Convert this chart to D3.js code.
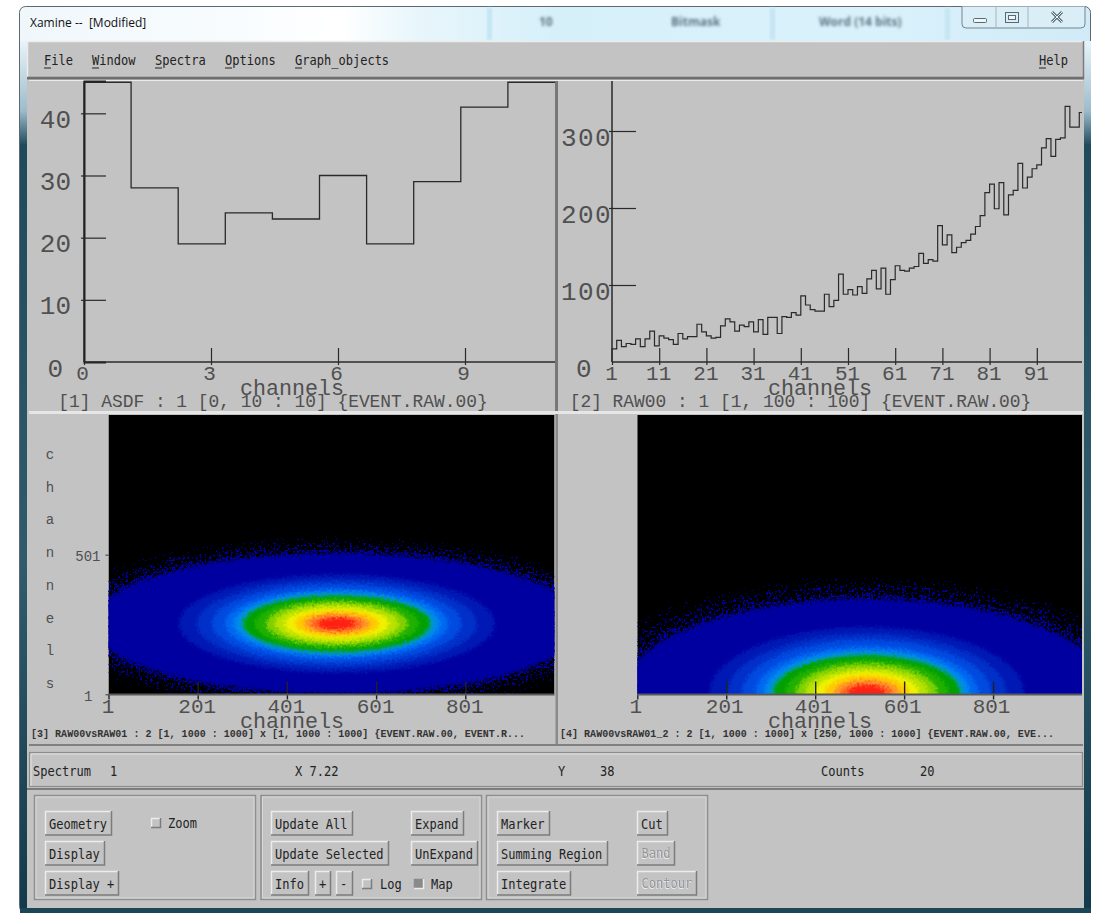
<!DOCTYPE html>
<html>
<head>
<meta charset="utf-8">
<title>Xamine</title>
<script src="https://cdn.jsdelivr.net/npm/d3@7"></script>
<style>
  html, body { margin: 0; padding: 0; background: #fff; }
  svg { display: block; }
  .mono { font-family: "Liberation Mono", monospace; fill: #505050; }
  .tiny { fill: #333; }
</style>
</head>
<body>
<div id="chart"></div>
<script>
// spectrum 1, counts per channel
const asdfCounts = [45, 28, 19, 24, 23, 30, 19, 29, 41, 45];
const asdfXTicks = [0, 3, 6, 9];
const asdfYTicks = [0, 10, 20, 30, 40];

// spectrum 2
const raw00Counts = [
  17, 28, 20, 24, 23, 30, 20, 30, 40, 21,
  34, 31, 29, 23, 37, 30, 33, 33, 49, 39,
  34, 31, 32, 47, 56, 52, 40, 48, 46, 52,
  39, 55, 36, 58, 58, 37, 59, 58, 64, 61,
  86, 74, 68, 66, 66, 88, 72, 80, 114, 88,
  94, 87, 98, 89, 108, 119, 95, 122, 88, 107,
  125, 119, 118, 122, 124, 141, 128, 133, 131, 177,
  152, 165, 142, 149, 155, 158, 166, 176, 190, 220,
  231, 199, 233, 191, 217, 223, 258, 226, 240, 251,
  256, 278, 290, 267, 289, 291, 332, 305, 305, 324
];
const raw00XTicks = [1, 11, 21, 31, 41, 51, 61, 71, 81, 91];
const raw00YTicks = [0, 100, 200, 300];

// 2d spectra: contour bands of the blob, half widths in channels
const bandRadiusX = [549, 354, 314, 280, 251, 231, 217, 209, 184, 159, 139, 117, 94, 74, 58, 40];
const bandRadiusY = [251, 176, 158, 143, 125, 115, 108, 100, 90, 79, 68, 57, 47, 36, 27, 20];
const fringeRadiusX = [650, 610, 575];
const fringeRadiusY = [312, 290, 265];
const blobCenterY = 254;
const blobCenterX = [513, 517];
const mapXTicks = [1, 201, 401, 601, 801];
const map3YTicks = [1, 501];

const menuLeft = ["File", "Window", "Spectra", "Options", "Graph_objects"];
const menuLeftX = [44, 92, 155, 225, 295];

const bandPalette = ["#0000a0", "#0018b4", "#0030c8", "#004ae0", "#0068f0", "#0088f0", "#009cb0", "#00a000",
  "#20b000", "#80d000", "#b8e200", "#f0f000", "#ffc800", "#ff9428", "#ff6020", "#ff2014"];

var svg = d3.select("#chart").append("svg").attr("width", 1101).attr("height", 913);
var defs = svg.append("defs");

// ---- filters for the pixel noise of the 2d maps
var rough = defs.append("filter").attr("id", "rough").attr("x", "-5%").attr("y", "-5%").attr("width", "110%").attr("height", "110%")
  .attr("color-interpolation-filters", "sRGB");
rough.append("feGaussianBlur").attr("in", "SourceGraphic").attr("stdDeviation", 1.6).attr("result", "soft");
rough.append("feTurbulence").attr("type", "fractalNoise").attr("baseFrequency", 0.4).attr("numOctaves", 2).attr("seed", 4).attr("result", "n");
rough.append("feDisplacementMap").attr("in", "soft").attr("in2", "n").attr("scale", 7).attr("xChannelSelector", "R").attr("yChannelSelector", "G");

function speckle(id, cut, seed) {
  var f = defs.append("filter").attr("id", id).attr("x", "-5%").attr("y", "-5%").attr("width", "110%").attr("height", "110%")
    .attr("color-interpolation-filters", "sRGB");
  f.append("feTurbulence").attr("type", "fractalNoise").attr("baseFrequency", 0.42).attr("numOctaves", 2).attr("seed", seed).attr("result", "n");
  f.append("feColorMatrix").attr("in", "n").attr("type", "matrix")
    .attr("values", "0 0 0 0 0  0 0 0 0 0  0 0 0 0 0  30 0 0 0 " + (-30 * cut)).attr("result", "m");
  f.append("feComposite").attr("in", "SourceGraphic").attr("in2", "m").attr("operator", "in");
}
speckle("sparse", 0.68, 7);
speckle("mid", 0.6, 11);
speckle("dense", 0.53, 19);

// ---- window chrome
var glass = defs.append("linearGradient").attr("id", "glass").attr("x1", 0).attr("x2", 1).attr("y1", 0).attr("y2", 0);
[[0, "#f0f7fb"], [0.2, "#f8fcfe"], [0.3, "#ffffff"], [0.37, "#e8f6fb"], [0.5, "#d6f0fa"], [0.8, "#d9f1fb"], [1, "#d0ebf7"]]
  .forEach(d => glass.append("stop").attr("offset", d[0]).attr("stop-color", d[1]));
var frame = defs.append("linearGradient").attr("id", "frame").attr("x1", 0).attr("x2", 0).attr("y1", 0).attr("y2", 1);
[[0, "#e8f4fa"], [0.08, "#9dbccb"], [0.12, "#1f4a5c"], [0.6, "#2f5b6c"], [1, "#123a4a"]]
  .forEach(d => frame.append("stop").attr("offset", d[0]).attr("stop-color", d[1]));

svg.append("rect").attr("x", 19.5).attr("y", 6.5).attr("width", 1071).attr("height", 906).attr("rx", 6)
  .attr("fill", "url(#glass)").attr("stroke", "#5c6a70");
svg.append("rect").attr("x", 20).attr("y", 41).attr("width", 7).attr("height", 871).attr("fill", "url(#frame)");
svg.append("rect").attr("x", 1084).attr("y", 41).attr("width", 7).attr("height", 871).attr("fill", "url(#frame)");
svg.append("rect").attr("x", 20).attr("y", 908).attr("width", 1071).attr("height", 5).attr("fill", "#1c4656");

// blurred taskbar behind the glass
defs.append("filter").attr("id", "blur").append("feGaussianBlur").attr("stdDeviation", 1.8);
[["10", 539], ["Bitmask", 671], ["Word (14 bits)", 819]].forEach(function(d) {
  svg.append("text").attr("x", d[1]).attr("y", 26).attr("font-family", "Open Sans").attr("font-size", 12).attr("font-weight", 700)
    .attr("fill", "#5a7480").attr("filter", "url(#blur)").text(d[0]);
});
[487, 770, 945].forEach(x => svg.append("rect").attr("x", x).attr("y", 8).attr("width", 5).attr("height", 32).attr("fill", "#c4e4f2").attr("filter", "url(#blur)"));

svg.append("text").attr("x", 30).attr("y", 27).attr("font-family", "Open Sans").attr("font-size", 12).attr("fill", "#111")
  .attr("xml:space", "preserve").text("Xamine --  [Modified]");

// min / max / close buttons
var wb = svg.append("g");
wb.append("path").attr("d", "M962,6.5V24a4,4 0 0 0 4,4H1081a4,4 0 0 0 4,-4V6.5").attr("fill", "#d9eef7").attr("stroke", "#74868f");
wb.append("path").attr("d", "M996,6.5V28M1028,6.5V28").attr("stroke", "#a4b6be");
wb.append("rect").attr("x", 973.5).attr("y", 18.5).attr("width", 13).attr("height", 4).attr("rx", 1).attr("fill", "#eef6fa").attr("stroke", "#5a6a72");
wb.append("rect").attr("x", 1005.5).attr("y", 12.5).attr("width", 13).attr("height", 10).attr("fill", "none").attr("stroke", "#5a6a72");
wb.append("rect").attr("x", 1008.5).attr("y", 15.5).attr("width", 7).attr("height", 4).attr("fill", "#eef6fa").attr("stroke", "#5a6a72");
wb.append("path").attr("d", "M1052,12L1062,22M1062,12L1052,22").attr("stroke", "#5a6a72").attr("stroke-width", 3);
wb.append("path").attr("d", "M1052,12L1062,22M1062,12L1052,22").attr("stroke", "#e8f2f6").attr("stroke-width", 1);

// grey body
svg.append("rect").attr("x", 27).attr("y", 41).attr("width", 1057).attr("height", 867).attr("fill", "#c3c3c3");

function bevel(x, y, w, h, raised, parent) {
  var g = parent || svg;
  var hi = raised ? "#ececec" : "#8a8a8a", lo = raised ? "#7c7c7c" : "#ececec";
  g.append("path").attr("d", `M${x + 0.5},${y + h}V${y + 0.5}H${x + w}`).attr("fill", "none").attr("stroke", hi).attr("stroke-width", 1.5);
  g.append("path").attr("d", `M${x + w - 0.5},${y}V${y + h - 0.5}H${x}`).attr("fill", "none").attr("stroke", lo).attr("stroke-width", 1.5);
}

// narrow tall fixed font of the motif widgets
function uiText(str, x, y, color) {
  return svg.append("text").attr("x", x).attr("y", y).attr("font-family", "DejaVu Sans Mono").attr("font-size", 13.5)
    .attr("fill", color || "#222").attr("textLength", str.length * 7.24).attr("lengthAdjust", "spacingAndGlyphs")
    .attr("xml:space", "preserve").text(str);
}

// ---- menu bar
bevel(27, 41, 1057, 38, true);
svg.append("line").attr("x1", 27).attr("x2", 1084).attr("y1", 78).attr("y2", 78).attr("stroke", "#6e6e6e").attr("stroke-width", 2.5);
menuLeft.forEach(function(m, i) {
  uiText(m, menuLeftX[i], 65);
  svg.append("line").attr("x1", menuLeftX[i]).attr("x2", menuLeftX[i] + 7).attr("y1", 68).attr("y2", 68).attr("stroke", "#222");
});
uiText("Help", 1039, 65);
svg.append("line").attr("x1", 1039).attr("x2", 1046).attr("y1", 68).attr("y2", 68).attr("stroke", "#222");

// ---- panel frames
svg.append("rect").attr("x", 555).attr("y", 80).attr("width", 3).attr("height", 331).attr("fill", "#777");
svg.append("rect").attr("x", 29).attr("y", 411).attr("width", 1054).attr("height", 3).attr("fill", "#e6e6e6");
svg.append("rect").attr("x", 555.5).attr("y", 414).attr("width", 2.5).attr("height", 331).attr("fill", "#8a8a8a");
svg.append("rect").attr("x", 29).attr("y", 744).attr("width", 1054).attr("height", 2).attr("fill", "#808080");
svg.append("rect").attr("x", 29).attr("y", 80).attr("width", 1054).attr("height", 1).attr("fill", "#eaeaea");

// ---- panel helpers
function yLabels(g, fontSize, spacing, dx, zeroDx) {
  g.selectAll("text").attr("class", "mono").attr("font-size", fontSize).attr("letter-spacing", spacing)
    .attr("text-anchor", "end").attr("dy", null).attr("y", 14)
    .attr("x", d => d === 0 ? zeroDx : dx);
}
function xLabels(g, baseline, dx) {
  g.selectAll("text").attr("class", "mono").attr("font-size", 21).attr("dy", null).attr("y", baseline).attr("dx", dx);
}
function panelText(str, cx, y, size, opts) {
  var o = opts || {};
  var t = svg.append("text").attr("class", "mono").attr("x", cx).attr("y", y).attr("font-size", size)
    .attr("text-anchor", o.anchor || "middle").text(str);
  if (o.bold) t.attr("font-weight", 700).attr("class", "mono tiny");
  if (o.length) t.attr("textLength", o.length).attr("lengthAdjust", "spacing");
  return t;
}

function histogram(counts, x, y, binStart) {
  // one extra point closes the last bin for the step curve
  var pts = counts.map((c, i) => [binStart(i), c]);
  pts.push([binStart(counts.length), counts[counts.length - 1]]);
  return d3.line().x(d => x(d[0])).y(d => y(d[1])).curve(d3.curveStepAfter)([[binStart(0), 0]].concat(pts));
}

// ---- [1] ASDF
var x1Bins = d3.scaleLinear().domain([0, 10]).range([84, 555]);
// xamine spaces the tick marks a little tighter than the bins here
var x1Ticks = d3.scaleLinear().domain([0, 3]).range([84, 211]);
var y1 = d3.scaleLinear().domain([0, 45.2]).range([362, 81]);

svg.append("path").attr("d", histogram(asdfCounts, x1Bins, y1, i => i)).attr("fill", "none").attr("stroke", "#2a2a2a").attr("stroke-width", 1.3);

var y1Axis = svg.append("g").attr("transform", "translate(84,0)")
  .call(d3.axisLeft(y1).tickValues(asdfYTicks).tickSize(-22).tickFormat(d3.format("d")));
y1Axis.select(".domain").attr("stroke", "#222").attr("stroke-width", 2);
y1Axis.selectAll("line").attr("x1", -3).attr("stroke", "#2a2a2a").attr("stroke-width", 1.2)
  .filter(d => d === 0).remove();
yLabels(y1Axis, 26, 0, -13, -21);

var x1Axis = svg.append("g").attr("transform", "translate(0,362)")
  .call(d3.axisBottom(x1Ticks).tickValues(asdfXTicks).tickSize(0).tickFormat(d3.format("d")));
x1Axis.select(".domain").remove();
svg.append("line").attr("x1", 84).attr("x2", 555).attr("y1", 362).attr("y2", 362).attr("stroke", "#2a2a2a").attr("stroke-width", 1.3);
x1Axis.selectAll("line").attr("y1", 3).attr("y2", d => d === 0 ? 0 : -14).attr("stroke", "#2a2a2a").attr("stroke-width", 1.2);
xLabels(x1Axis, 18, -2);
panelText("channels", 292, 395, 21.7);
panelText("[1] ASDF : 1 [0, 10 : 10] {EVENT.RAW.00}", 273, 407, 17.9);

// ---- [2] RAW00
var x2 = d3.scaleLinear().domain([1, 101]).range([612, 1084]);
var y2 = d3.scaleLinear().domain([0, 300]).range([362, 131]);

defs.append("clipPath").attr("id", "clip2").append("rect").attr("x", 610).attr("y", 81).attr("width", 472).attr("height", 283);
svg.append("path").attr("d", histogram(raw00Counts, x2, y2, i => i + 1)).attr("clip-path", "url(#clip2)")
  .attr("fill", "none").attr("stroke", "#2a2a2a").attr("stroke-width", 1.2);

var y2Axis = svg.append("g").attr("transform", "translate(612,0)")
  .call(d3.axisLeft(y2).tickValues(raw00YTicks).tickSize(-24).tickFormat(d3.format("d")));
y2Axis.select(".domain").remove();
svg.append("line").attr("x1", 612).attr("x2", 612).attr("y1", 81).attr("y2", 362).attr("stroke", "#2a2a2a").attr("stroke-width", 1.5);
y2Axis.selectAll("line").attr("x1", -3).attr("stroke", "#2a2a2a").attr("stroke-width", 1.2)
  .filter(d => d === 0).remove();
yLabels(y2Axis, 26, 1.4, 0, -19);

var x2Axis = svg.append("g").attr("transform", "translate(0,362)")
  .call(d3.axisBottom(x2).tickValues(raw00XTicks).tickSize(0).tickFormat(d3.format("d")));
x2Axis.select(".domain").remove();
svg.append("line").attr("x1", 612).attr("x2", 1082).attr("y1", 362).attr("y2", 362).attr("stroke", "#2a2a2a").attr("stroke-width", 1.3);
x2Axis.selectAll("line").attr("y1", 3).attr("y2", d => d === 1 ? 0 : -14).attr("stroke", "#2a2a2a").attr("stroke-width", 1.2);
xLabels(x2Axis, 18, -1);
panelText("channels", 820, 395, 21.7);
panelText("[2] RAW00 : 1 [1, 100 : 100] {EVENT.RAW.00}", 800.5, 407, 17.9);

// ---- 2d maps
var bandColor = d3.scaleOrdinal().domain(d3.range(bandRadiusX.length)).range(bandPalette);

function heatMap(id, x, y, centerX) {
  var left = x.range()[0], right = x.range()[1], top = y.range()[1], bottom = y.range()[0];
  defs.append("clipPath").attr("id", id).append("rect").attr("x", left).attr("y", top).attr("width", right - left).attr("height", bottom - top);
  var g = svg.append("g").attr("clip-path", `url(#${id})`);
  g.append("rect").attr("x", left).attr("y", top).attr("width", right - left).attr("height", bottom - top).attr("fill", "#000");

  var cx = x(centerX), cy = y(blobCenterY);
  var rx = r => x(centerX + r) - cx;
  var ry = r => y(blobCenterY - r) - cy;
  ["sparse", "mid", "dense"].forEach(function(f, i) {
    g.append("ellipse").attr("cx", cx).attr("cy", cy).attr("rx", rx(fringeRadiusX[i])).attr("ry", ry(fringeRadiusY[i]))
      .attr("fill", bandPalette[0]).attr("filter", `url(#${f})`);
  });
  var bands = g.append("g").attr("filter", "url(#rough)");
  bands.selectAll("ellipse").data(bandRadiusX).enter().append("ellipse")
    .attr("cx", cx).attr("cy", cy)
    .attr("rx", d => rx(d))
    .attr("ry", (d, i) => ry(bandRadiusY[i]))
    .attr("fill", (d, i) => bandColor(i));
}

function mapXAxis(x, dx) {
  var a = svg.append("g").attr("transform", "translate(0,694.5)")
    .call(d3.axisBottom(x).tickValues(mapXTicks).tickSize(0).tickFormat(d3.format("d")));
  a.select(".domain").remove();
  svg.append("line").attr("x1", x.range()[0]).attr("x2", x.range()[1]).attr("y1", 694.5).attr("y2", 694.5).attr("stroke", "#5a5a5a").attr("stroke-width", 2);
  a.selectAll("line").attr("y1", 5).attr("y2", d => d === 1 ? 0 : -13).attr("stroke", "#222").attr("stroke-width", 1.4);
  xLabels(a, 18.5, dx);
}

// [3]
var x3 = d3.scaleLinear().domain([1, 1001]).range([108.5, 554.5]);
var y3 = d3.scaleLinear().domain([1, 1001]).range([694.3, 415]);
heatMap("clip3", x3, y3, blobCenterX[0]);
mapXAxis(x3, -1);
var y3Axis = svg.append("g").attr("transform", "translate(108.5,0)")
  .call(d3.axisLeft(y3).tickValues(map3YTicks).tickSize(3).tickFormat(d3.format("d")));
y3Axis.select(".domain").remove();
y3Axis.selectAll("line").attr("stroke", "#333");
y3Axis.selectAll("text").attr("class", "mono").attr("font-size", 14).attr("text-anchor", "end").attr("dy", null)
  .attr("y", 6).attr("x", d => d === 1 ? -16 : -8);
"channels".split("").forEach(function(c, i) {
  panelText(c, 50, 459 + i * 32.7, 14);
});
panelText("channels", 292, 728, 21.7);
panelText("[3] RAW00vsRAW01 : 2 [1, 1000 : 1000] x [1, 1000 : 1000] {EVENT.RAW.00, EVENT.R...", 31, 737, 10, { anchor: "start", bold: true, length: 494 });

// [4]
var x4 = d3.scaleLinear().domain([1, 1001]).range([637.3, 1082]);
var y4 = d3.scaleLinear().domain([250, 1000]).range([694.3, 415]);
heatMap("clip4", x4, y4, blobCenterX[1]);
mapXAxis(x4, -2);
panelText("channels", 820, 728, 21.7);
panelText("[4] RAW00vsRAW01_2 : 2 [1, 1000 : 1000] x [250, 1000 : 1000] {EVENT.RAW.00, EVE...", 560, 737, 10, { anchor: "start", bold: true, length: 494 });

// ---- status line
svg.append("rect").attr("x", 29.5).attr("y", 752.5).attr("width", 1053).attr("height", 34).attr("fill", "none").attr("stroke", "#8c8c8c").attr("stroke-width", 1.2);
svg.append("path").attr("d", "M31,786V754H1081").attr("fill", "none").attr("stroke", "#e2e2e2").attr("stroke-width", 1);
svg.append("line").attr("x1", 27).attr("x2", 1084).attr("y1", 789).attr("y2", 789).attr("stroke", "#7c7c7c").attr("stroke-width", 2);
[["Spectrum", 33], ["1", 110], ["X 7.22", 295], ["Y", 558], ["38", 600], ["Counts", 821], ["20", 920]].forEach(d => uiText(d[0], d[1], 776));

// ---- control boxes
[[34.5, 221], [261, 220.5], [486.5, 221]].forEach(function(b) {
  svg.append("rect").attr("x", b[0]).attr("y", 795.5).attr("width", b[1]).attr("height", 104).attr("fill", "none").attr("stroke", "#8e8e8e").attr("stroke-width", 1.5);
  svg.append("rect").attr("x", b[0] + 1.5).attr("y", 797).attr("width", b[1] - 3).attr("height", 101).attr("fill", "none").attr("stroke", "#dedede").attr("stroke-width", 0.8);
});
[
  ["Geometry", 45, 811, 67], ["Display", 45, 841, 60], ["Display +", 45, 871, 74],
  ["Update All", 271, 811, 82], ["Update Selected", 271, 841, 118], ["Info", 271, 871, 38], ["+", 315, 871, 16], ["-", 336, 871, 17],
  ["Expand", 411, 811, 53], ["UnExpand", 411, 841, 67],
  ["Marker", 497, 811, 53], ["Summing Region", 497, 841, 111], ["Integrate", 497, 871, 74],
  ["Cut", 637, 811, 31], ["Band", 637, 841, 38, true], ["Contour", 637, 871, 60, true]
].forEach(function(b) {
  bevel(b[1], b[2], b[3], 24.5, true);
  uiText(b[0], b[1] + 4, b[2] + 17.5, b[4] ? "#eeeeee" : "#222");
  if (b[4]) uiText(b[0], b[1] + 4.5, b[2] + 17, "#8c8c8c").attr("opacity", 0.85);
});
[["Zoom", 151, 168, 823, false], ["Log", 362, 380, 884, false], ["Map", 414, 431, 884, true]].forEach(function(c) {
  svg.append("rect").attr("x", c[1]).attr("y", c[3] - 5).attr("width", 10).attr("height", 10)
    .attr("fill", c[4] ? "#8a8a8a" : "#c3c3c3");
  bevel(c[1], c[3] - 5, 10, 10, !c[4]);
  uiText(c[0], c[2], c[3] + 5);
});
</script>
</body>
</html>
